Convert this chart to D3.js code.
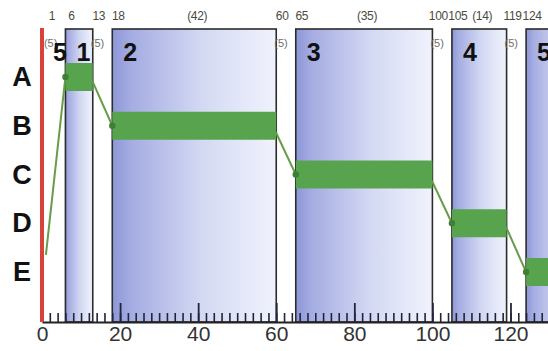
<!DOCTYPE html>
<html>
<head>
<meta charset="utf-8">
<script src="https://cdn.jsdelivr.net/npm/d3@7/dist/d3.min.js"></script>
<style>
  html, body { margin: 0; padding: 0; background: #fff; }
  svg { display: block; font-family: "Liberation Sans", Arial, sans-serif; }
</style>
</head>
<body>
<svg id="chart" width="548" height="351"></svg>
<script>
// Stage letters on the vertical axis (level 1 = A ... level 5 = E)
const stageLetters = ["A", "B", "C", "D", "E"];

// Blocks: stage number, start and end time
const blockStage = [5, 1, 2, 3, 4, 5];
const blockStart = [0, 6, 18, 65, 105, 124];
const blockEnd   = [1, 13, 60, 100, 119, 140];

// Green trace through the blocks (time, level)
const traceTime  = [1, 6, 13, 18, 60, 65, 100, 105, 119, 124, 140];
const traceLevel = [4.65, 1, 1.1, 2, 2.15, 3, 3.15, 4, 4.1, 5, 5];

// Axis ticks
const majorTicks = [0, 20, 40, 60, 80, 100, 120];
const minorTicks = d3.range(0, 142, 2);

const svg = d3.select("#chart");

const x = d3.scaleLinear().domain([0, 140]).range([42, 42 + 140 * 3.904]);
const y = d3.scaleLinear().domain([1, 5]).range([77, 272]);
const baseY = 322, topY = 29, barH = 28;

const blocks = blockStage.map((s, i) => ({ stage: s, start: blockStart[i], end: blockEnd[i], i }));
const fullBlocks = blocks.filter(b => b.i > 0);

// Horizontal blue-to-white fill for blocks
const defs = svg.append("defs");
const grad = defs.append("linearGradient").attr("id", "blockFill")
  .attr("x1", "0%").attr("x2", "100%").attr("y1", "0%").attr("y2", "0%");
[["0%", "#8d97d8"], ["12%", "#a5ade2"], ["55%", "#d4d9f3"], ["100%", "#f0f3fc"]]
  .forEach(([o, c]) => grad.append("stop").attr("offset", o).attr("stop-color", c));

// Block rectangles
svg.append("g").selectAll("rect").data(fullBlocks).join("rect")
  .attr("x", d => x(d.start)).attr("y", topY)
  .attr("width", d => x(d.end) - x(d.start)).attr("height", baseY - topY)
  .attr("fill", "url(#blockFill)")
  .attr("stroke", "#2b2b2b").attr("stroke-width", 1.6);

// Trace line
svg.append("path")
  .datum(traceTime.map((t, i) => [t, traceLevel[i]]))
  .attr("d", d3.line().x(d => x(d[0])).y(d => y(d[1])))
  .attr("fill", "none").attr("stroke", "#679c48").attr("stroke-width", 2);

// Stage bars
svg.append("g").selectAll("rect").data(fullBlocks).join("rect")
  .attr("x", d => x(d.start)).attr("y", d => y(d.stage) - barH / 2)
  .attr("width", d => x(d.end) - x(d.start)).attr("height", barH)
  .attr("fill", "#58a34e");

// Dots at the start of each bar
svg.append("g").selectAll("circle").data(fullBlocks).join("circle")
  .attr("cx", d => x(d.start)).attr("cy", d => y(d.stage)).attr("r", 3.2)
  .attr("fill", "#3f7e35");

// Stage letters
svg.append("g").selectAll("text").data(stageLetters).join("text")
  .attr("x", 22).attr("y", (d, i) => y(i + 1))
  .attr("text-anchor", "middle").attr("dominant-baseline", "central")
  .attr("font-size", 27).attr("font-weight", "bold").attr("fill", "#111")
  .text(d => d);

// Gap lengths between blocks
const gaps = blocks.slice(1).map((b, i) => ({ from: blocks[i].end, to: b.start }));
svg.append("g").selectAll("text").data(gaps).join("text")
  .attr("x", d => x(d.from) - 2).attr("y", 47)
  .attr("font-size", 11).attr("fill", "#6e6e6e")
  .text(d => `(${d.to - d.from})`);

// Block numbers
svg.append("g").selectAll("text").data(blocks).join("text")
  .attr("x", d => x(d.start) + 11).attr("y", 61)
  .attr("font-size", 25).attr("font-weight", "bold").attr("fill", "#111")
  .text(d => d.stage);

// Boundary times above the blocks
const bounds = [blocks[0].end];
fullBlocks.forEach(b => { bounds.push(b.start); if (b.end <= 130) bounds.push(b.end); });
svg.append("g").selectAll("text").data(bounds).join("text")
  .attr("x", d => x(d) + 6).attr("y", 20)
  .attr("text-anchor", "middle").attr("font-size", 12).attr("letter-spacing", -0.3)
  .attr("fill", "#4a4a40")
  .text(d => d);

// Durations of the long blocks
svg.append("g").selectAll("text")
  .data(fullBlocks.filter(b => b.end <= 130 && b.end - b.start >= 10)).join("text")
  .attr("x", d => x((d.start + d.end) / 2) + 3).attr("y", 20)
  .attr("text-anchor", "middle").attr("font-size", 12).attr("letter-spacing", -0.3)
  .attr("fill", "#4a4a40")
  .text(d => `(${d.end - d.start})`);

// Minor ticks
svg.append("g").attr("transform", `translate(0,${baseY})`)
  .call(d3.axisBottom(x).tickValues(minorTicks).tickSize(-9).tickFormat(""))
  .call(g => g.select(".domain").remove())
  .call(g => g.selectAll("line").attr("stroke", "#22243a").attr("stroke-width", 1.6));

// Major ticks with labels
svg.append("g").attr("transform", `translate(0,${baseY})`)
  .call(d3.axisBottom(x).tickValues(majorTicks).tickSize(-19).tickPadding(4).tickSizeOuter(0))
  .call(g => g.select(".domain").attr("stroke", "#222").attr("stroke-width", 2))
  .call(g => g.selectAll("line").attr("stroke", "#22243a").attr("stroke-width", 1.8))
  .call(g => g.selectAll("text").attr("font-size", 21).attr("fill", "#333")
    .attr("font-family", "'Liberation Sans', Arial, sans-serif"));

// Time-zero marker
svg.append("line")
  .attr("x1", x(0)).attr("x2", x(0)).attr("y1", 28).attr("y2", baseY)
  .attr("stroke", "#d8423b").attr("stroke-width", 4);
</script>
</body>
</html>
